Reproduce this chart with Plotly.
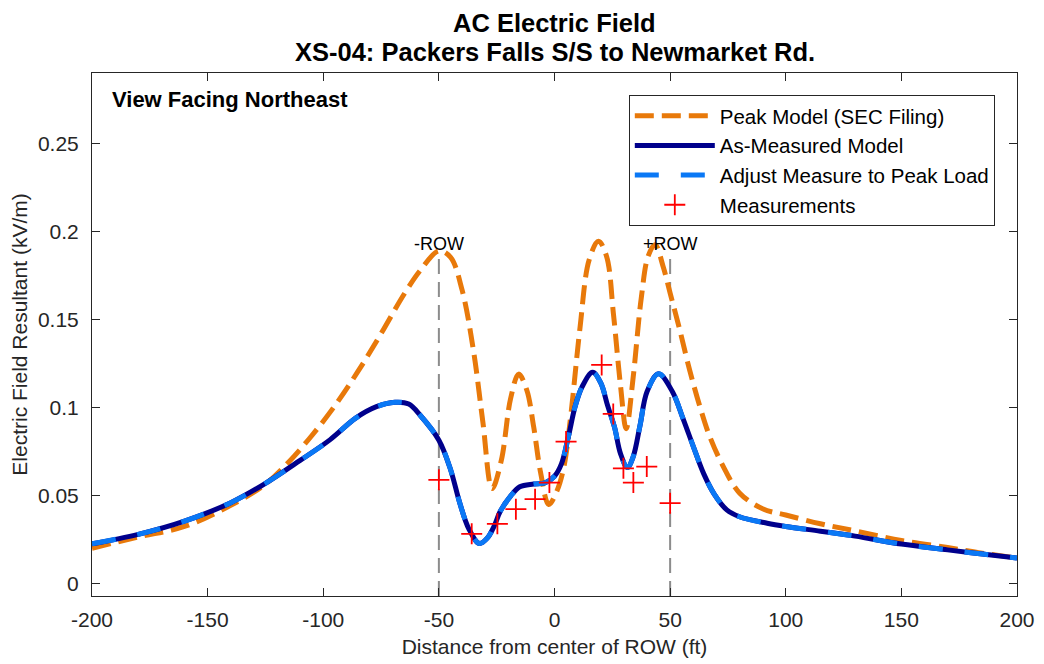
import plotly.graph_objects as go

# ---------------- data ----------------
peak_x = [-200, -180, -160, -140, -125, -115, -105, -95, -85, -75, -65, -58, -50, -45,
          -40, -35, -31, -27, -23, -19, -15.5, -12, -9, -6, -2.5, 1, 4, 7, 11, 15, 19,
          22.5, 25.5, 28.5, 31, 34, 37.5, 40.5, 43.5, 47, 50, 54, 58.5, 63, 67, 73, 80,
          90, 100, 115, 130, 150, 170, 185, 200]
peak_y = [0.0201, 0.0265, 0.0325, 0.0445, 0.0565, 0.069, 0.084, 0.101, 0.1205, 0.142,
          0.1645, 0.178, 0.189, 0.1855, 0.167, 0.132, 0.092, 0.054, 0.070, 0.105, 0.119,
          0.110, 0.089, 0.063, 0.045, 0.0525, 0.066, 0.095, 0.145, 0.184, 0.1945, 0.186,
          0.153, 0.113, 0.088, 0.117, 0.162, 0.186, 0.1925, 0.180, 0.165, 0.145, 0.121,
          0.100, 0.084, 0.0665, 0.0515, 0.0425, 0.039, 0.034, 0.030, 0.0245, 0.0205,
          0.0173, 0.0146]

meas_model_x = [-200, -180, -160, -140, -125, -110, -97, -86, -77, -69, -63, -58, -50, -45,
                -41, -37, -32.5, -29, -26, -23.5, -19, -15, -9, -4, 0, 3, 6, 9, 12, 16.5,
                20, 23, 26, 28.5, 31.5, 34, 37, 40, 45, 51, 55.5, 60, 64.5, 69, 74.5, 80,
                92, 100, 115, 130, 150, 170, 185, 200]
meas_model_y = [0.0226, 0.028, 0.0355, 0.046, 0.057, 0.070, 0.0818, 0.094, 0.1005, 0.103,
                0.102, 0.0955, 0.0815, 0.065, 0.046, 0.031, 0.0228, 0.026, 0.033, 0.041,
                0.0497, 0.055, 0.0566, 0.0573, 0.061, 0.068, 0.0835, 0.101, 0.112, 0.120,
                0.114, 0.101, 0.0886, 0.074, 0.066, 0.072, 0.090, 0.109, 0.1192, 0.109,
                0.094, 0.078, 0.0625, 0.051, 0.0419, 0.038, 0.0343, 0.0325, 0.0298, 0.027,
                0.0225, 0.0192, 0.0168, 0.0146]

adjusted_x = meas_model_x
adjusted_y = meas_model_y

points_x = [-50, -35.8, -24.7, -16.7, -8.4, -2.2, 5.0, 20.4, 25.4, 29.8, 34.1, 39.9, 50]
points_y = [0.059, 0.0283, 0.034, 0.0423, 0.048, 0.0574, 0.0807, 0.1242, 0.0964, 0.0655,
            0.0574, 0.0665, 0.0457]

row_x = [-50, 50]
row_labels = ["-ROW", "+ROW"]
row_top = 0.186

x_ticks = [-200, -150, -100, -50, 0, 50, 100, 150, 200]
x_tick_text = ["-200", "-150", "-100", "-50", "0", "50", "100", "150", "200"]
y_ticks = [0, 0.05, 0.1, 0.15, 0.2, 0.25]
y_tick_text = ["0", "0.05", "0.1", "0.15", "0.2", "0.25"]
x_range = [-200, 200]
y_range = [-0.007, 0.29]

title_lines = ["AC Electric Field", "XS-04: Packers Falls S/S to Newmarket Rd."]

# ---------------- figure ----------------
FONT = "Liberation Sans, Arial, Helvetica, sans-serif"
AXC = "#262626"
FS = 21

fig = go.Figure()

fig.add_trace(go.Scatter(
    x=peak_x, y=peak_y, mode="lines", name="Peak Model (SEC Filing)",
    line=dict(color="#E8790A", width=5, dash="19px,8px", shape="spline", smoothing=1.0)))
fig.add_trace(go.Scatter(
    x=meas_model_x, y=meas_model_y, mode="lines", name="As-Measured Model",
    line=dict(color="#00008C", width=5, shape="spline", smoothing=1.0)))
fig.add_trace(go.Scatter(
    x=adjusted_x, y=adjusted_y, mode="lines", name="Adjust Measure to Peak Load",
    line=dict(color="#0A78F5", width=5, dash="24px,22px", shape="spline", smoothing=1.0)))
fig.add_trace(go.Scatter(
    x=points_x, y=points_y, mode="markers", name="Measurements",
    marker=dict(symbol="cross-thin", size=15, color="red",
                line=dict(color="red", width=1.8))))

for rx, lbl in zip(row_x, row_labels):
    fig.add_shape(type="line", xref="x", yref="y", x0=rx, x1=rx,
                  y0=y_range[0], y1=row_top, layer="below",
                  line=dict(color="#8C8C8C", width=2, dash="15px,8px"))
    fig.add_annotation(x=rx, y=row_top, xref="x", yref="y", text=lbl,
                       showarrow=False, xanchor="center", yanchor="bottom",
                       font=dict(family=FONT, size=18, color="black"))

fig.add_annotation(x=0.0195, y=0.95, xref="paper", yref="paper",
                   text="<b>View Facing Northeast</b>", showarrow=False,
                   xanchor="left", yanchor="middle",
                   font=dict(family=FONT, size=22, color="black"))

for ty, txt in zip([1.0956, 1.040], title_lines):
    fig.add_annotation(x=0.5, y=ty, xref="paper", yref="paper",
                       text="<b>" + txt + "</b>", showarrow=False,
                       xanchor="center", yanchor="middle",
                       font=dict(family=FONT, size=25.5, color="black"))

# the page body has an 8px margin, so the figure is 8px smaller on each axis
fig.update_layout(
    width=1036, height=656,
    margin=dict(l=84, r=27, t=65, b=68, autoexpand=False),
    paper_bgcolor="white", plot_bgcolor="white",
    font=dict(family=FONT, size=FS, color=AXC),
    showlegend=True,
    legend=dict(x=0.976, y=0.958, xanchor="right", yanchor="top",
                bgcolor="white", bordercolor=AXC, borderwidth=1,
                font=dict(family=FONT, size=20.5, color="black"),
                tracegroupgap=0, itemwidth=80),
    xaxis=dict(range=x_range, tickvals=x_ticks, ticktext=x_tick_text, ticks="inside",
               ticklen=8, tickcolor=AXC, showline=True, linecolor=AXC, linewidth=1,
               mirror="ticks", showgrid=False, zeroline=False, automargin=False,
               ticklabelstandoff=5, tickfont=dict(size=FS),
               title=dict(text="Distance from center of ROW (ft)", standoff=9,
                          font=dict(family=FONT, size=FS, color=AXC))),
    yaxis=dict(range=y_range, tickvals=y_ticks, ticktext=y_tick_text, ticks="inside",
               ticklen=8, tickcolor=AXC, showline=True, linecolor=AXC, linewidth=1,
               mirror="ticks", showgrid=False, zeroline=False, automargin=False,
               ticklabelstandoff=8, tickfont=dict(size=FS),
               title=dict(text="Electric Field Resultant (kV/m)", standoff=4,
                          font=dict(family=FONT, size=FS, color=AXC))),
)

fig.write_html("out.html")
